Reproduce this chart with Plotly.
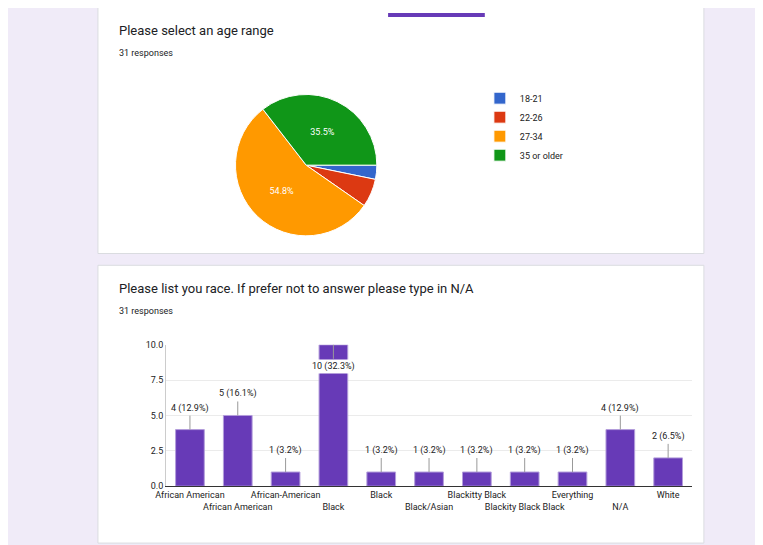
import plotly.graph_objects as go

age_labels = ["18-21", "22-26", "27-34", "35 or older"]
age_values = [1, 2, 17, 11]
age_colors = ["#3366cc", "#dc3912", "#ff9900", "#109618"]

race_cats = ["African American ", "African American", "African-American", "Black ", "Black",
             "Black/Asian", "Blackitty Black", "Blackity Black Black", "Everything", "N/A", "White"]
race_vals = [4, 5, 1, 10, 1, 1, 1, 1, 1, 4, 2]
race_labels = ["4 (12.9%)", "5 (16.1%)", "1 (3.2%)", "10 (32.3%)", "1 (3.2%)", "1 (3.2%)",
               "1 (3.2%)", "1 (3.2%)", "1 (3.2%)", "4 (12.9%)", "2 (6.5%)"]

W, H = 763, 545
def px(x): return x / W
def py(y): return 1 - y / H

fig = go.Figure()
fig.add_trace(go.Pie(labels=age_labels, values=age_values, sort=False, direction="clockwise",
                     rotation=90, marker=dict(colors=age_colors, line=dict(color="white", width=1)),
                     texttemplate=["", "", "%{percent:.1%}", "%{percent:.1%}"],
                     textposition="inside", insidetextfont=dict(color="white", size=9),
                     domain=dict(x=[px(220), px(364)], y=[py(227), py(83)]),
                     hoverinfo="label+value"))
fig.add_trace(go.Bar(x=race_cats, y=race_vals, marker=dict(color="#673ab7", line=dict(color="#b39ddb", width=1)),
                     width=0.6, showlegend=False))

ticktext = [c.strip() if i % 2 == 0 else "<br>" + c.strip() for i, c in enumerate(race_cats)]
ann = []
for c, v, t in zip(race_cats, race_vals, race_labels):
    inside = v >= 10
    ann.append(dict(x=c, y=v, xref="x", yref="y", text=t, showarrow=True, arrowhead=0,
                    arrowwidth=1, arrowcolor="#999", ax=0, ay=(14 if inside else -14),
                    yanchor=("top" if inside else "bottom"),
                    bgcolor=("white" if inside else None),
                    font=dict(size=9, color="#222")))

texts = [("Please select an age range", 100, 18, 13, "#202124"),
         ("31 responses", 100, 41, 9, "#202124"),
         ("Please list you race. If prefer not to answer please type in N/A", 100, 281, 13, "#202124"),
         ("31 responses", 100, 304, 9, "#202124")]
for t, x, y, s, col in texts:
    ann.append(dict(x=px(x), y=py(y), xref="paper", yref="paper", text=t, showarrow=False,
                    xanchor="left", yanchor="middle", font=dict(size=s, color=col)))

shapes = [
    dict(type="rect", xref="paper", yref="paper", x0=px(81), x1=px(695), y0=py(245), y1=py(-10),
         fillcolor="white", line=dict(color="#dadce0", width=1), layer="below"),
    dict(type="rect", xref="paper", yref="paper", x0=px(81), x1=px(695), y0=py(540), y1=py(257),
         fillcolor="white", line=dict(color="#dadce0", width=1), layer="below"),
    dict(type="rect", xref="paper", yref="paper", x0=px(375), x1=px(473), y0=py(4), y1=py(0),
         fillcolor="#673ab7", line=dict(width=0)),
    dict(type="rect", xref="paper", yref="paper", x0=px(105), x1=px(290), y0=py(545), y1=py(543),
         fillcolor="#673ab7", line=dict(width=0)),
]

fig.update_layout(
    width=W, height=H, margin=dict(l=0, r=0, t=0, b=0),
    paper_bgcolor="#f0ebf8", plot_bgcolor="white",
    font=dict(family="Roboto, Arial, sans-serif", color="#222"),
    legend=dict(x=px(468), y=py(72), xanchor="left", yanchor="top", font=dict(size=9),
                bgcolor="rgba(0,0,0,0)", itemwidth=30, tracegroupgap=0),
    xaxis=dict(domain=[px(150), px(683)], tickmode="array", tickvals=race_cats, ticktext=ticktext,
               tickfont=dict(size=9), showline=True, linecolor="#333", ticks="", tickangle=0),
    yaxis=dict(domain=[py(482), py(338)], range=[0, 10], tickvals=[0, 2.5, 5, 7.5, 10],
               tickformat=".1f", gridcolor="#ebebeb", tickfont=dict(size=9), zeroline=False,
               showline=True, linecolor="#ccc"),
    annotations=ann, shapes=shapes, bargap=0.4,
)
fig.write_html("out.html")
